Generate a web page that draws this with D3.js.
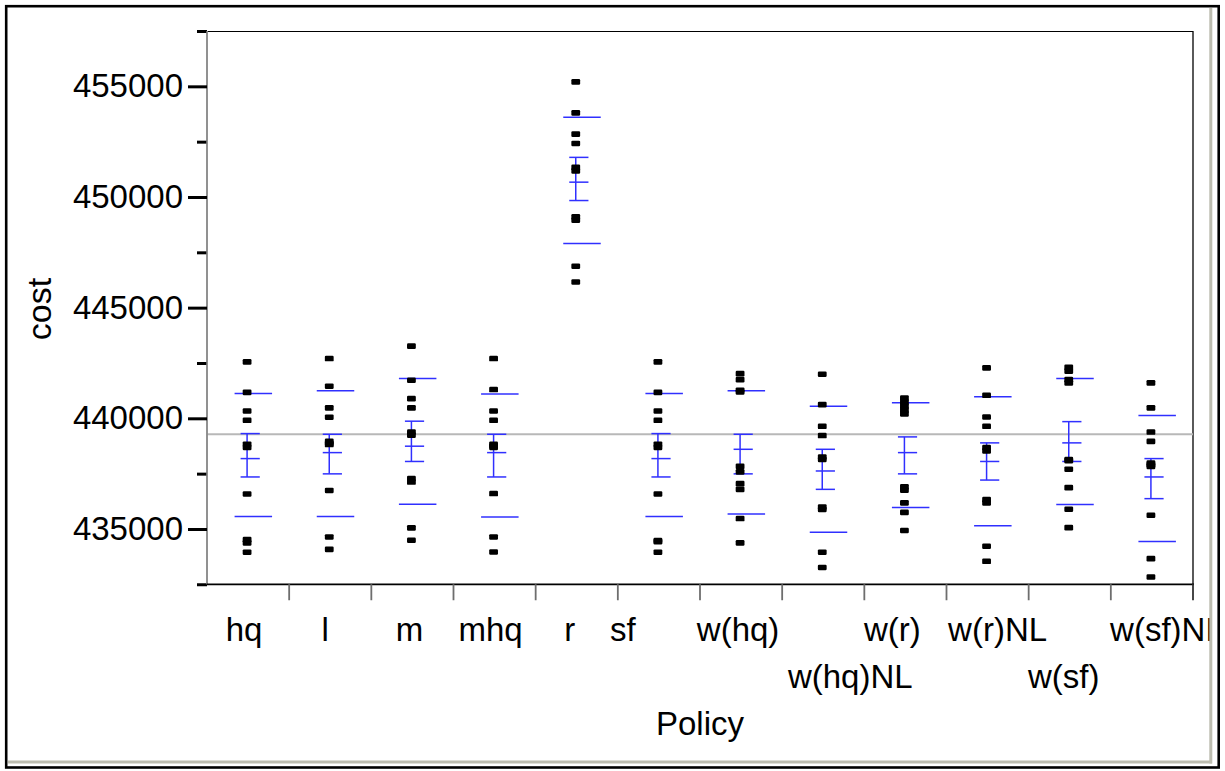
<!DOCTYPE html>
<html><head><meta charset="utf-8">
<script src="https://cdn.jsdelivr.net/npm/d3@7"></script>
<style>body{margin:0;background:#fff;} text{font-family:"Liberation Sans",Arial,sans-serif;fill:#000;}</style>
</head><body><svg id="c" width="1225" height="771"></svg>
<script>
// ---- data ----
const categories = ["hq","l","m","mhq","r","sf","w(hq)","w(hq)NL","w(r)","w(r)NL","w(sf)","w(sf)NL"];
const costHq    = [442550, 441170, 440330, 439910, 438830, 438680, 436580, 434520, 434370, 433950];
const costL     = [442700, 441450, 440470, 440050, 438960, 438870, 438815, 436740, 434640, 434080];
const costM     = [443260, 441720, 440890, 440470, 439380, 439240, 437280, 437120, 435050, 434490];
const costMhq   = [442700, 441300, 440330, 439910, 438830, 438750, 438680, 436600, 434640, 433960];
const costR     = [455200, 453800, 452840, 452420, 451340, 451180, 449100, 448950, 446870, 446160];
const costSf    = [442550, 441170, 440330, 439910, 438830, 438680, 436580, 434480, 434430, 433950];
const costWhq   = [442020, 441750, 441270, 441190, 437830, 437580, 437050, 436790, 435470, 434370];
const costWhqNL = [441990, 440620, 439640, 439220, 438250, 438140, 435990, 435880, 433950, 433260];
const costWr    = [440920, 440740, 440560, 440380, 440200, 436900, 436750, 436180, 435750, 434930];
const costWrNL  = [442280, 441040, 440060, 439640, 438680, 438530, 436330, 436180, 434220, 433540];
const costWsf   = [442300, 442130, 441750, 441600, 438140, 438090, 437700, 436870, 435890, 435060];
const costWsfNL = [441600, 440470, 439380, 438960, 437980, 437910, 437830, 435620, 433660, 432830];
const costs = [costHq, costL, costM, costMhq, costR, costSf, costWhq, costWhqNL, costWr, costWrNL, costWsf, costWsfNL];

const groupMean = [438180, 438450, 438740, 438450, 450670, 438180, 438600, 437620, 438450, 438050, 438890, 437350];
const errHigh   = [439310, 439280, 439870, 439280, 451790, 439310, 439280, 438600, 439160, 438890, 439850, 438180];
const errLow    = [437350, 437490, 438050, 437350, 449840, 437350, 437490, 436790, 437490, 437210, 438050, 436370];
const sdHigh    = [441120, 441240, 441800, 441100, 453600, 441120, 441240, 440550, 440700, 440970, 441800, 440130];
const sdLow     = [435560, 435560, 436120, 435540, 447900, 435560, 435680, 434850, 435970, 435140, 436100, 434430];
const grandMean = 439280;

const yMinorTicks = [432500, 437500, 442500, 447500, 452500, 457500];
const yMajorTicks = [435000, 440000, 445000, 450000, 455000];
const yTickLabels = ["435000", "440000", "445000", "450000", "455000"];
const xTitle = "Policy";
const yTitle = "cost";

// ---- layout ----
const labelRow   = [0,0,0,0,0,0,0,1,0,0,1,0];
const labelShift = [-4,-5,-3,-4,-7,-36,-3,27,-13,10,-6,15];

const svg = d3.select("#c");
svg.append("rect").attr("width",1225).attr("height",771).attr("fill","#fff");
svg.append("defs").append("clipPath").attr("id","clip")
  .append("rect").attr("x",0).attr("y",0).attr("width",1212).attr("height",760.5);
const g = svg.append("g").attr("clip-path","url(#clip)");

const L = 207, R = 1193, T = 31, B = 584.3;
const x = d3.scaleBand().domain(categories).range([L, R]).padding(0);
const y = d3.scaleLinear().domain([432500, 457500]).range([B, T]);
const cx = c => x(c) + x.bandwidth()/2 - 1;

// plot frame
g.append("line").attr("x1",L).attr("x2",R).attr("y1",T+0.5).attr("y2",T+0.5).attr("stroke","#000").attr("stroke-width",1);
g.append("line").attr("x1",R).attr("x2",R).attr("y1",T).attr("y2",B).attr("stroke","#000").attr("stroke-width",1.3);

// grand mean line
g.append("line").attr("x1",L).attr("x2",R).attr("y1",y(grandMean)).attr("y2",y(grandMean))
  .attr("stroke","#b8b8b8").attr("stroke-width",2);

// y axis: minor and major
const yMinor = d3.axisLeft(y).tickValues(yMinorTicks).tickSize(10).tickFormat("");
const yMajor = d3.axisLeft(y).tickValues(yMajorTicks).tickSize(19).tickPadding(5)
  .tickFormat((d,i) => yTickLabels[i]);
const ga1 = g.append("g").attr("transform",`translate(${L},0)`).call(yMinor);
const ga2 = g.append("g").attr("transform",`translate(${L},0)`).call(yMajor);
[ga1, ga2].forEach(a => {
  a.select(".domain").attr("stroke","#8a8a8a").attr("stroke-width",1.5).attr("d",`M0,${T}V${B}`);
  a.selectAll(".tick line").attr("stroke","#000").attr("stroke-width",3);
});
ga2.selectAll(".tick text").attr("font-size",33).attr("font-family",'"Liberation Sans",Arial,sans-serif').attr("fill","#000");

// x axis baseline and separators
g.append("line").attr("x1",L).attr("x2",R+1).attr("y1",B).attr("y2",B).attr("stroke","#000").attr("stroke-width",1.8);
categories.forEach(c => {
  const bx = x(c) + x.bandwidth();
  g.append("line").attr("x1",bx).attr("x2",bx).attr("y1",B).attr("y2",B+16)
    .attr("stroke", bx > R-1 ? "#333" : "#6e6e6e").attr("stroke-width",1.8);
});

// blue mean / error / sd lines
const blue = "#3030ff";
categories.forEach((c,i) => {
  const X = cx(c);
  const gl = g.append("g").attr("stroke",blue).attr("stroke-width",1.5);
  [sdHigh[i], sdLow[i]].forEach(v => gl.append("line").attr("x1",X-12.5).attr("x2",X+25).attr("y1",y(v)).attr("y2",y(v)));
  [errHigh[i], errLow[i], groupMean[i]].forEach(v => gl.append("line").attr("x1",X-6.5).attr("x2",X+12.7).attr("y1",y(v)).attr("y2",y(v)));
  gl.append("line").attr("x1",X).attr("x2",X).attr("y1",y(errHigh[i])).attr("y2",y(errLow[i]));
});

// points
categories.forEach((c,i) => {
  g.append("g").selectAll("rect").data(costs[i]).join("rect")
    .attr("x", cx(c) - 4.4).attr("y", d => y(d) - 2.8)
    .attr("width", 8.8).attr("height", 5.6).attr("rx", 1.2)
    .attr("fill", "#000");
});

// x labels
categories.forEach((c,i) => {
  g.append("text").attr("x", x(c) + x.bandwidth()/2 + labelShift[i])
    .attr("y", labelRow[i] ? 688 : 641)
    .attr("text-anchor","middle").attr("font-size",33).text(c);
});

// titles
g.append("text").attr("x",(L+R)/2).attr("y",735).attr("text-anchor","middle").attr("font-size",33).text(xTitle);
g.append("text").attr("transform","translate(51,309) rotate(-90)").attr("text-anchor","middle").attr("font-size",34).text(yTitle);

// panel shadow and outer frame
svg.append("line").attr("x1",1210.8).attr("x2",1210.8).attr("y1",8).attr("y2",763.5).attr("stroke","#bdbdb0").attr("stroke-width",3);
svg.append("line").attr("x1",8).attr("x2",1212).attr("y1",762).attr("y2",762).attr("stroke","#bdbdb0").attr("stroke-width",3);
svg.append("rect").attr("x",6.2).attr("y",6.2).attr("width",1212.5).attr("height",761.3)
  .attr("fill","none").attr("stroke","#000").attr("stroke-width",2.6);
</script></body></html>
